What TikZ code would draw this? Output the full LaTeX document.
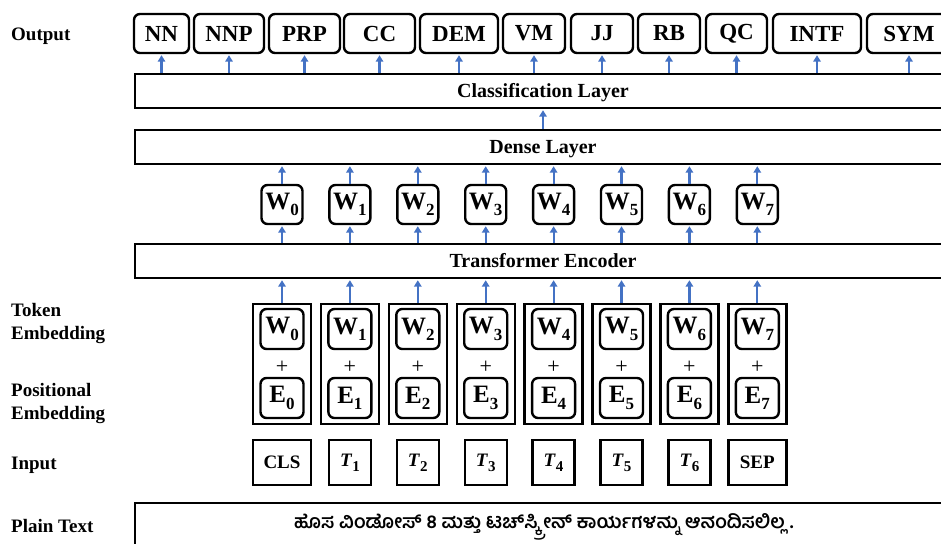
\documentclass[tikz,border=0pt]{standalone}
\usepackage{fontspec}
\setmainfont{Liberation Serif}
\newfontfamily\kn[Script=Kannada]{Hind Mysuru}
\usetikzlibrary{arrows.meta}
\definecolor{arrblue}{HTML}{4472C4}
\newcommand{\Wsub}[2]{\textbf{#1}\raisebox{-0.25em}{\fontsize{17}{17}\selectfont\textbf{#2}}}
\newcommand{\Tsub}[1]{\textbf{\textit{T}}\raisebox{-0.25em}{\fontsize{15}{15}\selectfont\textbf{#1}}}
\tikzset{
  lbl/.style={anchor=west, align=left, inner sep=0, font=\fontsize{19}{23}\selectfont\bfseries},
  outbox/.style={draw, line width=2.4pt, rounded corners=6pt, minimum height=39, inner sep=0, font=\fontsize{23}{26}\selectfont\bfseries},
  layer/.style={draw, line width=2.4pt, minimum height=34, minimum width=816, inner sep=0, text height=14pt, text depth=1pt, font=\fontsize{20}{22}\selectfont\bfseries},
  wbox/.style={draw, line width=2.4pt, rounded corners=6pt, minimum width=41, minimum height=39, inner sep=0, font=\fontsize{25}{28}\selectfont},
  colbox/.style={draw, line width=2.4pt, minimum width=58, minimum height=120, inner sep=0},
  plussign/.style={inner sep=0, font=\fontsize{22}{22}\selectfont},
  inbox/.style={draw, line width=2.4pt, minimum width=42, minimum height=45, inner sep=0, font=\fontsize{19}{22}\selectfont\bfseries},
  arr/.style={draw=arrblue, line width=2.2pt, -{Triangle[length=6.5pt,width=7.5pt]}, shorten >=1pt}
}
\begin{document}
\begin{tikzpicture}[x=1pt,y=-1pt]
\useasboundingbox (0,0) rectangle (941,543);
% left labels
\node[lbl] (lout) at (11,36) {Output};
\node[lbl] (ltok) at (11,323.5) {Token\\Embedding};
\node[lbl] (lpos) at (11,403.5) {Positional\\Embedding};
\node[lbl] (linp) at (11,465) {Input};
\node[lbl] (lpla) at (11,526) {Plain Text};
% output row
\foreach \n/\l/\r/\t in {1/134/189/NN, 2/194/264/NNP, 3/269/340/PRP, 4/344/415/CC, 5/420/498/DEM, 6/503/565/VM, 7/571/633/JJ, 8/638/700/RB, 9/706/767/QC, 10/773/861/INTF, 11/867/951/SYM} {
  \node[outbox, minimum width={\r-\l}] (o\n) at ({(\l+\r)/2},33.5) {\t};
}
% layers
\node[layer] (cls) at (543,91) {Classification Layer};
\node[layer] (dense) at (543,147) {Dense Layer};
\node[layer] (enc) at (543,261) {Transformer Encoder};
\node[draw, line width=2.4pt, minimum width=816, minimum height=44, inner sep=0] (plain) at (543,525) {};
\node[font=\kn\bfseries\fontsize{19}{21}\selectfont] (ptext) at (544,527) {ಹೊಸ ವಿಂಡೋಸ್ 8 ಮತ್ತು ಟಚ್‌ಸ್ಕ್ರೀನ್ ಕಾರ್ಯಗಳನ್ನು ಆನಂದಿಸಲಿಲ್ಲ .};
\foreach \n in {1,...,11} {
  \draw[arr] (o\n.south |- cls.north) -- (o\n.south);
}
\draw[arr] (dense.north) -- (cls.south);
% columns
\foreach \i in {0,...,7} {
  \pgfmathsetmacro{\cx}{282+67.9*\i}
  \node[wbox] (w\i) at (\cx,204.5) {\Wsub{W}{\i}};
  \node[colbox] (c\i) at (\cx,364) {};
  \node[wbox, minimum width=43, minimum height=40] (ew\i) at (\cx,329) {\Wsub{W}{\i}};
  \node[plussign] (p\i) at (\cx,367) {+};
  \node[wbox, minimum width=43, minimum height=40] (ee\i) at (\cx,398) {\Wsub{E}{\i}};
  \draw[arr] (c\i.north) -- (c\i.north |- enc.south);
  \draw[arr] (w\i.south |- enc.north) -- (w\i.south);
  \draw[arr] (w\i.north) -- (w\i.north |- dense.south);
}
% inputs
\node[inbox, minimum width=58] (in0) at (282,462.5) {CLS};
\foreach \i in {1,...,6} {
  \pgfmathsetmacro{\cx}{282+67.9*\i}
  \node[inbox] (in\i) at (\cx,462.5) {\Tsub{\i}};
}
\node[inbox, minimum width=58] (in7) at (757.3,462.5) {SEP};
\end{tikzpicture}
\end{document}
